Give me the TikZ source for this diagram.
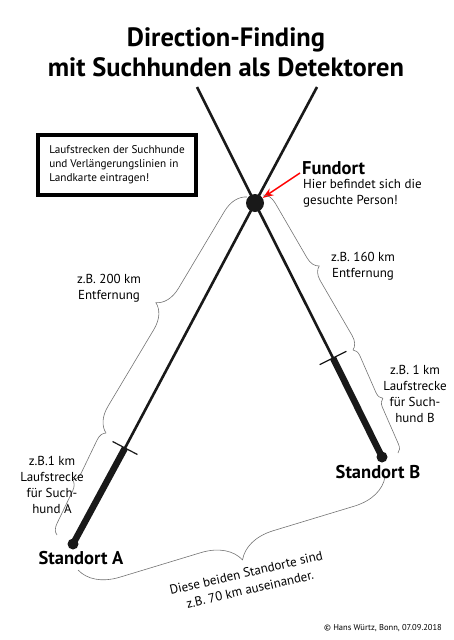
\documentclass[tikz,border=0pt]{standalone}
\usepackage{fontspec}
\setmainfont{PT Sans}
\usetikzlibrary{arrows.meta,decorations.pathreplacing}

\begin{document}
\begin{tikzpicture}[x=1pt, y=-1pt,
  every node/.style={inner sep=0pt, align=center, font=\fontsize{13}{16}\selectfont},
  note/.style={font=\fontsize{13}{16}\selectfont},
  sitename/.style={font=\bfseries\fontsize{18.5}{21}\selectfont},
  dot/.style={circle, fill=black!90, draw=none},
  track/.style={line width=2.6pt, black!90},
  walk/.style={line width=6.5pt, black!90},
  crossbar/.style={line width=1.2pt, black!90},
  bracket/.style={decorate, decoration={brace, amplitude=#1}, draw=black!55, line width=0.6pt}]

\useasboundingbox (0,0) rectangle (453,640);

\node (title) at (226,52) [font=\bfseries\fontsize{26.5}{30}\selectfont] {Direction-Finding\\mit Suchhunden als Detektoren};
\node (hint) at (117,165) [draw, line width=3.5pt, minimum width=158pt, minimum height=60pt, align=left, font=\fontsize{11.2}{14}\selectfont] {Laufstrecken der Suchhunde\\und Verlängerungslinien in\\Landkarte eintragen!};

\node (fund) at (255,203) [dot, minimum size=18pt] {};
\node (standA) at (73,544) [dot, minimum size=11pt] {};
\node (standB) at (382,457) [dot, minimum size=11pt] {};
\coordinate (topA) at (317,87);
\coordinate (topB) at (197,87);
\coordinate (tickA) at (125,448);
\coordinate (tickB) at (333,358);
\coordinate (barA1) at (112.6,441.5);
\coordinate (barA2) at (137.4,454.5);
\coordinate (barB1) at (319.6,364.7);
\coordinate (barB2) at (346.4,351.3);

\draw[walk] (standA.center) -- (tickA);
\draw[track] (tickA) -- (fund.center) -- (topA);
\draw[walk] (standB.center) -- (tickB);
\draw[track] (tickB) -- (fund.center) -- (topB);
\draw[crossbar] (barA1) -- (barA2);
\draw[crossbar] (barB1) -- (barB2);

\node (fundname) at (302,168) [anchor=west, sitename] {Fundort};
\node (fundtext) at (303,193) [anchor=west, align=left, note] {Hier befindet sich die\\gesuchte Person!};
\coordinate (arrowtail) at (300,173);
\draw[red, line width=1.4pt, -{Stealth[length=11pt,width=8pt]}] (arrowtail) -- (fund);

\coordinate (endA) at (57,535);
\coordinate (joinA) at (106,433);
\coordinate (nearA) at (247,197);
\coordinate (nearB) at (263,195);
\coordinate (joinB) at (353,350);
\coordinate (endB) at (398,453);
\coordinate (baseB) at (385,477);
\coordinate (baseA) at (78,570);
\draw[bracket=24pt] (joinA) -- (nearA);
\draw[bracket=10pt] (endA) -- (joinA);
\draw[bracket=13pt] (nearB) -- (joinB);
\draw[bracket=8pt] (joinB) -- (endB);
\draw[bracket=38pt] (baseB) -- (baseA);

\node (distA) at (109,288) [note] {z.B. 200 km\\Entfernung};
\node (runA) at (52,485) [note] {z.B.1 km\\Laufstrecke\\für Such-\\hund A};
\node (distB) at (363,266) [note] {z.B. 160 km\\Entfernung};
\node (runB) at (415,394) [note] {z.B. 1 km\\Laufstrecke\\für Such-\\hund B};
\node (nameA) at (81,558) [sitename] {Standort A};
\node (nameB) at (378,472) [sitename] {Standort B};
\node (gap) at (248,581) [note, rotate=13, font=\fontsize{13}{17}\selectfont] {Diese beiden Standorte sind\\z.B. 70 km auseinander.};
\node (credit) at (383,628) [font=\fontsize{8.5}{9}\selectfont] {© Hans Würtz, Bonn, 07.09.2018};
\end{tikzpicture}
\end{document}
